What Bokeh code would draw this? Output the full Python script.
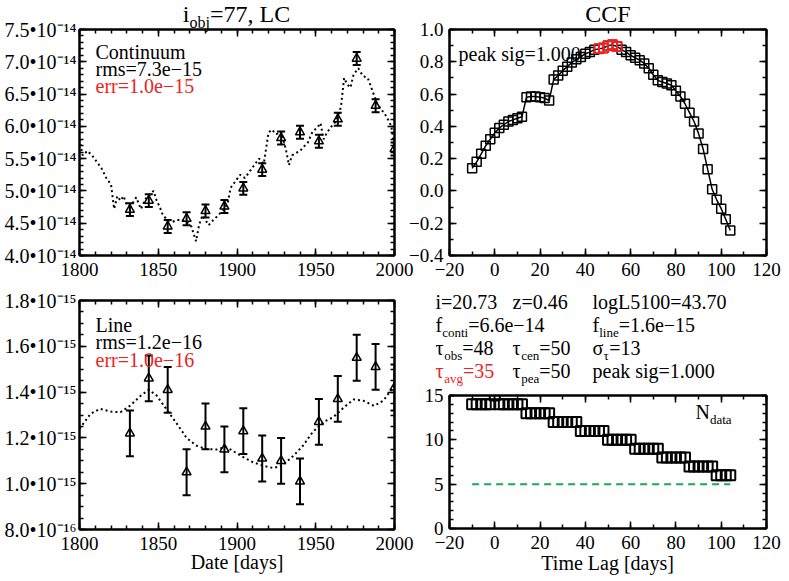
import numpy as np
from bokeh.plotting import figure
from bokeh.models import (FixedTicker, LinearAxis, Label, Range1d, CustomJSTickFormatter)
from bokeh.layouts import row, column
from bokeh.embed import file_html
from bokeh.resources import INLINE

FONT = "Liberation Serif"
RED = "#ee2222"
GREEN = "#1aa85a"

# ------------------------------------------------------------------ data
obs_dates = [1832, 1844, 1856, 1868, 1880, 1892, 1904, 1916, 1928, 1940, 1952, 1964, 1976, 1988, 2000]
cont_flux = [4.71, 4.85, 4.45, 4.57, 4.69, 4.76, 5.04, 5.33, 5.82, 5.91, 5.77, 6.11, 7.05, 6.32, 5.65]   # x1e-14
cont_err = [0.10, 0.10, 0.10, 0.10, 0.10, 0.10, 0.10, 0.10, 0.10, 0.10, 0.10, 0.10, 0.10, 0.10, 0.10]
line_flux = [1.22, 1.46, 1.41, 1.05, 1.25, 1.15, 1.23, 1.11, 1.10, 1.01, 1.27, 1.37, 1.55, 1.51, 1.42]   # x1e-15
line_err = [0.10, 0.10, 0.10, 0.10, 0.10, 0.10, 0.10, 0.10, 0.10, 0.10, 0.10, 0.10, 0.10, 0.10, 0.10]

cont_model_dates = [1800, 1802, 1805, 1808, 1811, 1814, 1817, 1820, 1822, 1824, 1826, 1828, 1830, 1833,
                    1836, 1839, 1842, 1845, 1847, 1849, 1851, 1853, 1856, 1859, 1862, 1865, 1868, 1871,
                    1874, 1876, 1878, 1880, 1882, 1885, 1888, 1891, 1894, 1896, 1899, 1902, 1905, 1908,
                    1911, 1914, 1917, 1920, 1922, 1925, 1928, 1931, 1933, 1935, 1937, 1940, 1943, 1945,
                    1948, 1951, 1953, 1955, 1957, 1960, 1963, 1966, 1968, 1970, 1972, 1974, 1977, 1980,
                    1983, 1986, 1989, 1992, 1995, 1998, 2000]
cont_model_flux = [5.80, 5.55, 5.62, 5.55, 5.45, 5.35, 5.20, 5.10, 4.72, 4.92, 4.85, 4.92, 4.78, 4.78,
                   4.90, 4.72, 4.88, 4.95, 5.00, 4.85, 4.75, 4.62, 4.55, 4.52, 4.55, 4.55, 4.52, 4.45,
                   4.22, 4.48, 4.62, 4.55, 4.47, 4.55, 4.62, 4.70, 4.80, 5.05, 5.15, 5.25, 5.20, 5.30,
                   5.40, 5.50, 5.42, 5.90, 5.95, 5.88, 5.92, 5.65, 5.40, 5.55, 5.58, 5.62, 5.70, 5.75,
                   5.92, 5.98, 6.05, 5.80, 5.90, 6.00, 6.08, 6.30, 6.75, 6.65, 6.60, 6.80, 6.90, 6.78,
                   6.75, 6.55, 6.35, 6.25, 6.15, 6.00, 5.65]

line_model_dates = [1800, 1807, 1813, 1820, 1826, 1832, 1839, 1844, 1849, 1855, 1862, 1868, 1874, 1880,
                    1887, 1893, 1897, 1904, 1910, 1916, 1923, 1929, 1936, 1942, 1948, 1955, 1961, 1968,
                    1974, 1980, 1987, 1993, 2000]
line_model_flux = [1.24, 1.305, 1.327, 1.315, 1.312, 1.34, 1.385, 1.41, 1.385, 1.327, 1.26, 1.20, 1.167,
                   1.152, 1.149, 1.16, 1.145, 1.116, 1.094, 1.08, 1.068, 1.08, 1.123, 1.167, 1.225,
                   1.27, 1.29, 1.334, 1.368, 1.363, 1.34, 1.363, 1.43]

lags = [-10, -8, -6, -4, -2, 0, 2, 4, 6, 8, 10, 12, 14, 16, 18, 20, 22, 24, 26, 28, 30, 32, 34, 36,
        38, 40, 42, 44, 46, 48, 50, 52, 54, 56, 58, 60, 62, 64, 66, 68, 70, 72, 74, 76, 78, 80, 82,
        84, 86, 88, 90, 92, 94, 96, 98, 100, 102, 104]
ccf = [0.14, 0.18, 0.23, 0.28, 0.32, 0.36, 0.39, 0.41, 0.43, 0.44, 0.45, 0.46, 0.58, 0.585, 0.585,
       0.58, 0.575, 0.56, 0.69, 0.715, 0.745, 0.77, 0.795, 0.815, 0.83, 0.85, 0.86, 0.875, 0.88,
       0.885, 0.90, 0.905, 0.895, 0.875, 0.86, 0.84, 0.825, 0.81, 0.79, 0.76, 0.72, 0.685, 0.675,
       0.665, 0.655, 0.62, 0.585, 0.54, 0.485, 0.43, 0.355, 0.26, 0.135, 0.01, -0.055, -0.11,
       -0.175, -0.245]
ndata = [14, 14, 14, 14, 14, 15, 14, 14, 14, 14, 14, 14, 13, 13, 13, 13, 13, 13, 12, 12, 12, 12, 12,
         12, 11, 11, 11, 11, 11, 11, 10, 10, 10, 10, 10, 10, 9, 9, 9, 9, 9, 9, 8, 8, 8, 8, 8, 8, 7,
         7, 7, 7, 7, 7, 6, 6, 6, 6]
peak_lag_min, peak_lag_max = 46, 54
min_ndata = 5

date_ticks = [1800, 1850, 1900, 1950, 2000]
lag_ticks = [-20, 0, 20, 40, 60, 80, 100, 120]
ccf_ticks = [-0.4, -0.2, 0.0, 0.2, 0.4, 0.6, 0.8, 1.0]
ndata_ticks = [0, 5, 10, 15]
E14, E15 = 1e-14, 1e-15
cont_ticks = [4.0, 4.5, 5.0, 5.5, 6.0, 6.5, 7.0, 7.5]          # x1e-14
cont_tick_labels = ["4.0•10⁻¹⁴", "4.5•10⁻¹⁴", "5.0•10⁻¹⁴", "5.5•10⁻¹⁴", "6.0•10⁻¹⁴",
                    "6.5•10⁻¹⁴", "7.0•10⁻¹⁴", "7.5•10⁻¹⁴"]
line_ticks = [0.8, 1.0, 1.2, 1.4, 1.6, 1.8]                    # x1e-15
line_tick_labels = ["8.0•10⁻¹⁶", "1.0•10⁻¹⁵", "1.2•10⁻¹⁵", "1.4•10⁻¹⁵", "1.6•10⁻¹⁵", "1.8•10⁻¹⁵"]

# ------------------------------------------------------------------ text metrics (Times)
W = {' ': 250, ',': 250, '.': 250, '=': 564, '[': 333, ']': 333, '−': 564, '-': 333, '•': 350,
     'τ': 439, 'σ': 549, 'C': 667, 'D': 722, 'F': 556, 'L': 611, 'N': 722, 'T': 611,
     'a': 444, 'b': 500, 'c': 444, 'd': 500, 'e': 444, 'f': 333, 'g': 500, 'i': 278, 'j': 278,
     'k': 500, 'l': 278, 'm': 778, 'n': 500, 'o': 500, 'p': 500, 'r': 333, 's': 389, 't': 278,
     'u': 500, 'v': 500, 'y': 500, 'z': 444}


def tw(s, px):
    return sum(W.get(ch, 500) for ch in s) * px / 1000.0


PAGE_W, PAGE_H = 789, 580


def make_fig(origin, size, frame, xr, yr):
    x0, y0 = origin
    w, h = size
    fl, ft, fr, fb = frame
    p = figure(width=w, height=h, x_range=Range1d(*xr), y_range=Range1d(*yr),
               output_backend="svg", toolbar_location=None, tools="",
               min_border_left=fl - x0, min_border_right=x0 + w - fr,
               min_border_top=ft - y0, min_border_bottom=y0 + h - fb)
    p.xgrid.visible = False
    p.ygrid.visible = False
    p.outline_line_color = "black"
    p.outline_line_width = 2
    p.outline_line_alpha = 1.0
    p.border_fill_color = None
    p.background_fill_color = None
    return p


blank_fmt = CustomJSTickFormatter(code="return '';")


def style_axis(ax, ticks, minor, labels=True, fmt=None, standoff=7):
    ax.ticker = FixedTicker(ticks=ticks, minor_ticks=minor)
    ax.major_tick_in = 7
    ax.major_tick_out = 0
    ax.minor_tick_in = 4
    ax.minor_tick_out = 0
    ax.major_tick_line_width = 1.5
    ax.minor_tick_line_width = 1.5
    ax.axis_line_width = 2
    ax.major_label_text_font = FONT
    ax.major_label_text_font_size = "19px"
    ax.major_label_text_color = "black"
    ax.major_label_standoff = standoff
    if labels:
        if fmt is not None:
            ax.formatter = fmt
    else:
        ax.formatter = blank_fmt
        ax.major_label_text_color = None


def frame_axes(p, xt, xminor, yt, yminor, xfmt=None, yfmt=None, ysize="19px", ystandoff=6):
    style_axis(p.xaxis[0], xt, xminor, True, xfmt, standoff=7)
    style_axis(p.yaxis[0], yt, yminor, True, yfmt, standoff=ystandoff)
    p.yaxis[0].major_label_text_font_size = ysize
    top = LinearAxis()
    style_axis(top, xt, xminor, False)
    p.add_layout(top, "above")
    right = LinearAxis()
    style_axis(right, yt, yminor, False)
    p.add_layout(right, "right")


def list_fmt(tick_vals, tick_texts):
    return CustomJSTickFormatter(args=dict(tvals=tick_vals, ttexts=tick_texts), code="""
        let best = 0;
        for (let i = 0; i < tvals.length; i++) {
            if (Math.abs(tvals[i] - tick) < Math.abs(tvals[best] - tick)) best = i;
        }
        return ttexts[best];""")


minus_fmt_int = CustomJSTickFormatter(code="return (tick < 0 ? '\\u2212' : '') + Math.abs(tick).toFixed(0);")
minus_fmt_1 = CustomJSTickFormatter(code="return (tick < -1e-9 ? '\\u2212' : '') + Math.abs(tick).toFixed(1);")
plain_int = CustomJSTickFormatter(code="return tick.toFixed(0);")

date_minor = [1800 + 10 * k for k in range(21)]
lag_minor = [-20 + 10 * k for k in range(15)]

# ------------------------------------------------------------------ geometry (page coords)
TL_O, TL_S, TL_F = (0, 0), (420, 288), (79, 29, 394, 255)
BL_O, BL_S, BL_F = (0, 288), (420, 292), (79, 300, 394, 529)
TR_O, TR_S, TR_F = (390, 0), (399, 288), (449, 29, 766, 255)
BR_O, BR_S, BR_F = (390, 288), (399, 292), (449, 395, 766, 528)

# ------------------------------------------------------------------ top-left: continuum
tl = make_fig(TL_O, TL_S, TL_F, (1800, 2000), (4.0 * E14, 7.5 * E14))
cont_tick_vals = [t * E14 for t in cont_ticks]
frame_axes(tl, date_ticks, date_minor, cont_tick_vals, [(4.0 + 0.1 * k) * E14 for k in range(36)],
           xfmt=plain_int, yfmt=list_fmt(cont_tick_vals, cont_tick_labels), ysize="20px", ystandoff=3)
cf = np.array(cont_flux) * E14
ce = np.array(cont_err) * E14
tl.line(cont_model_dates, np.array(cont_model_flux) * E14, line_color="black", line_width=2,
        line_dash="2 3")
tl.segment(x0=obs_dates, y0=cf - ce, x1=obs_dates, y1=cf + ce, line_color="black", line_width=2)
tl.scatter(obs_dates, cf + ce, marker="dash", size=8, line_color="black", line_width=2)
tl.scatter(obs_dates, cf - ce, marker="dash", size=8, line_color="black", line_width=2)
tl.scatter(obs_dates, cf, marker="triangle", size=9, fill_color=None, line_color="black", line_width=1.5)

# ------------------------------------------------------------------ bottom-left: line
bl = make_fig(BL_O, BL_S, BL_F, (1800, 2000), (0.8 * E15, 1.8 * E15))
line_tick_vals = [t * E15 for t in line_ticks]
frame_axes(bl, date_ticks, date_minor, line_tick_vals, [(0.8 + 0.05 * k) * E15 for k in range(21)],
           xfmt=plain_int, yfmt=list_fmt(line_tick_vals, line_tick_labels), ysize="20px", ystandoff=3)
lf = np.array(line_flux) * E15
le = np.array(line_err) * E15
bl.line(line_model_dates, np.array(line_model_flux) * E15, line_color="black", line_width=2,
        line_dash="2 3")
bl.segment(x0=obs_dates, y0=lf - le, x1=obs_dates, y1=lf + le, line_color="black", line_width=2)
bl.scatter(obs_dates, lf + le, marker="dash", size=8, line_color="black", line_width=2)
bl.scatter(obs_dates, lf - le, marker="dash", size=8, line_color="black", line_width=2)
bl.scatter(obs_dates, lf, marker="triangle", size=9, fill_color=None, line_color="black", line_width=1.5)

# ------------------------------------------------------------------ top-right: CCF
tr = make_fig(TR_O, TR_S, TR_F, (-20, 120), (-0.4, 1.0))
frame_axes(tr, lag_ticks, lag_minor, ccf_ticks, [-0.4 + 0.1 * k for k in range(15)],
           xfmt=minus_fmt_int, yfmt=minus_fmt_1)
tr.line(lags, ccf, line_color="black", line_width=1.5)
tr.scatter(lags, ccf, marker="square", size=9, fill_color=None, line_color="black", line_width=1.5)
pk = [i for i, L in enumerate(lags) if peak_lag_min <= L <= peak_lag_max]
tr.scatter([lags[i] for i in pk], [ccf[i] for i in pk], marker="square", size=9, fill_color=None,
           line_color=RED, line_width=2)

# ------------------------------------------------------------------ bottom-right: N data
br = make_fig(BR_O, BR_S, BR_F, (-20, 120), (0, 15))
frame_axes(br, lag_ticks, lag_minor, ndata_ticks, list(range(16)), xfmt=minus_fmt_int, yfmt=plain_int)
br.line([lags[0], lags[-1]], [min_ndata, min_ndata], line_color=GREEN, line_width=2, line_dash="7 5")
br.scatter(lags, ndata, marker="square", size=10, fill_color=None, line_color="black", line_width=2)

# ------------------------------------------------------------------ transparent overlay for free texts
ov = figure(width=PAGE_W, height=PAGE_H, x_range=Range1d(0, PAGE_W), y_range=Range1d(0, PAGE_H),
            output_backend="svg", toolbar_location=None, tools="",
            x_axis_location=None, y_axis_location=None,
            min_border_left=0, min_border_right=0, min_border_top=0, min_border_bottom=0,
            margin=(-PAGE_H, 0, 0, 0))
ov.grid.visible = False
ov.outline_line_color = None
ov.border_fill_color = None
ov.background_fill_color = None


def place(px, py, pieces, align="left", color="black"):
    """pieces: (text, font_px, dy_px_down); px, py: page coords of the text baseline start."""
    total = sum(tw(t, s) for t, s, d in pieces)
    x = px - total / 2.0 if align == "center" else px
    for t, s, d in pieces:
        yc = py + d - 0.34 * s            # vertical middle of the text line
        ov.add_layout(Label(x=x, y=PAGE_H - yc, x_units="screen", y_units="screen",
                            text=t, text_font=FONT, text_font_size=f"{s}px", text_color=color,
                            text_align="left", text_baseline="middle"))
        x += tw(t, s)


# titles
place(236, 22, [("i", 24, 0), ("obj", 16, 5), ("=77, LC", 24, 0)], align="center")
place(607.5, 22, [("CCF", 24, 0)], align="center")
# panel notes
place(95, 58, [("Continuum", 20, 0)])
place(95, 75, [("rms=7.3e−15", 20, 0)])
place(95, 92, [("err=1.0e−15", 20, 0)], color=RED)
place(95, 331, [("Line", 20, 0)])
place(95, 348, [("rms=1.2e−16", 20, 0)])
place(95, 366, [("err=1.0e−16", 20, 0)], color=RED)
place(458, 60, [("peak sig=1.000", 20, 0)])
place(695, 418, [("N", 20, 0), ("data", 13, 5)])
# axis titles
place(236.5, 568, [("Date [days]", 20, 0)], align="center")
place(607.5, 569, [("Time Lag [days]", 20, 0)], align="center")
# parameter block
place(435, 308, [("i=20.73", 20, 0)])
place(512, 308, [("z=0.46", 20, 0)])
place(592, 308, [("logL5100=43.70", 20, 0)])
place(435, 331, [("f", 20, 0), ("conti", 13, 5), ("=6.6e−14", 20, 0)])
place(592, 331, [("f", 20, 0), ("line", 13, 5), ("=1.6e−15", 20, 0)])
place(435, 354, [("τ", 20, 0), ("obs", 13, 5), ("=48", 20, 0)])
place(512, 354, [("τ", 20, 0), ("cen", 13, 5), ("=50", 20, 0)])
place(592, 354, [("σ", 20, 0), ("τ", 13, 5), ("=13", 20, 0)])
place(435, 377, [("τ", 20, 0), ("avg", 13, 5), ("=35", 20, 0)], color=RED)
place(512, 377, [("τ", 20, 0), ("pea", 13, 5), ("=50", 20, 0)])
place(592, 377, [("peak sig=1.000", 20, 0)])

grid = row(column(tl, bl), column(tr, br, margin=(0, 0, 0, -30)))
layout = column(grid, ov)
open("out.html", "w").write(file_html(layout, INLINE, "plot"))
